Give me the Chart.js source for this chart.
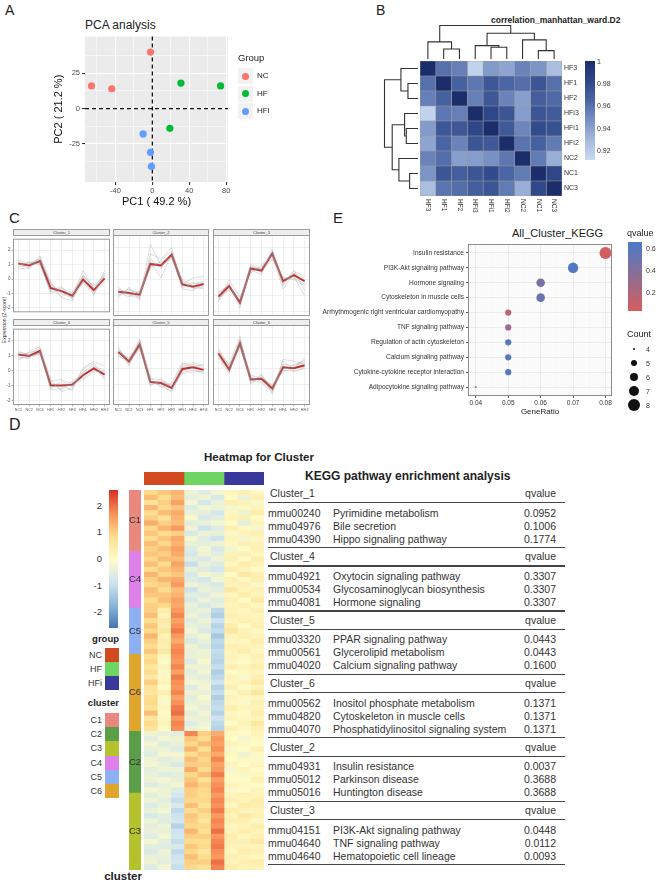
<!DOCTYPE html>
<html>
<head>
<meta charset="utf-8">
<script src="https://cdn.jsdelivr.net/npm/chart.js@4.4.0/dist/chart.umd.min.js"></script>
<style>
body { margin: 0; background: #fff; font-family: "Liberation Sans", Arial, sans-serif; }
#fig { position: relative; width: 658px; height: 884px; overflow: hidden; }
canvas, .t, .b { position: absolute; }
.t { white-space: nowrap; color: #222; line-height: 1; }
</style>
</head>
<body>
<div id="fig"></div>
<script>
// ---------- panel A : PCA ----------
const pcaGroups = ['NC', 'HF', 'HFi'];
const pcaColors = ['#F8766D', '#00BA38', '#619CFF'];
const pc1NC = [-2, -66, -44];
const pc2NC = [40, 16, 14];
const pc1HF = [31, 74, 19];
const pc2HF = [18, 16, -14];
const pc1HFi = [-10, -2, -1];
const pc2HFi = [-18, -31, -41];
const pcaXTicks = [-40, 0, 40, 80];
const pcaYTicks = [-25, 0, 25];

// ---------- panel B : correlation heatmap ----------
const corrLabels = ['HF3', 'HF1', 'HF2', 'HFi3', 'HFi1', 'HFi2', 'NC2', 'NC1', 'NC3'];
const corrMatrix = [
  [1.000, 0.965, 0.958, 0.915, 0.945, 0.940, 0.956, 0.948, 0.927],
  [0.965, 1.000, 0.972, 0.962, 0.977, 0.970, 0.966, 0.978, 0.965],
  [0.958, 0.972, 1.000, 0.958, 0.977, 0.956, 0.943, 0.974, 0.968],
  [0.915, 0.962, 0.958, 1.000, 0.985, 0.978, 0.944, 0.978, 0.975],
  [0.945, 0.977, 0.977, 0.985, 1.000, 0.976, 0.955, 0.983, 0.980],
  [0.940, 0.970, 0.956, 0.978, 0.976, 1.000, 0.963, 0.972, 0.960],
  [0.956, 0.966, 0.943, 0.944, 0.950, 0.962, 1.000, 0.960, 0.935],
  [0.948, 0.978, 0.974, 0.978, 0.983, 0.970, 0.960, 1.000, 0.985],
  [0.927, 0.963, 0.966, 0.974, 0.978, 0.960, 0.935, 0.984, 1.000]
];
const corrTicks = [1, 0.98, 0.96, 0.94, 0.92];
// hclust merges: [left, right, height]
const dendroMerges = [
  ['HF1', 'HF2', 0.30],
  ['HF3', 'm0', 0.51],
  ['HFi1', 'HFi2', 0.35],
  ['HFi3', 'm2', 0.40],
  ['NC1', 'NC3', 0.25],
  ['NC2', 'm4', 0.57],
  ['m3', 'm5', 0.77],
  ['m1', 'm6', 1.00]
];

// ---------- panel C : cluster profiles ----------
const sampleNames = ['NC1', 'NC2', 'NC3', 'HF1', 'HF2', 'HF3', 'HFi1', 'HFi2', 'HFi3'];
const c1Mean = [1.08, 0.95, 1.25, -0.62, -0.83, -1.15, -0.03, -0.76, 0.05];
const c2Mean = [-0.77, -0.85, -0.96, 0.98, 0.88, 1.56, -0.31, -0.46, -0.29];
const c3Mean = [-1.08, -0.42, -1.46, 0.69, 0.56, 1.63, -0.10, 0.27, -0.10];
const c4Mean = [1.08, 0.98, 1.31, -0.98, -1.00, -0.94, -0.31, 0.15, -0.27];
const c5Mean = [1.08, 0.48, 1.56, -0.83, -0.90, -1.21, 0.00, 0.10, -0.06];
const c6Mean = [1.00, -0.04, 1.63, -0.67, -0.63, -1.25, 0.10, 0.04, 0.23];
const c1Genes = [
  [1.3, 1.1, 1.4, -0.3, -1.0, -1.3, 0.3, -0.6, 0.4],
  [0.8, 1.0, 1.1, -0.9, -0.6, -1.0, -0.3, -1.0, -0.2],
  [1.2, 0.7, 1.5, -0.5, -1.2, -0.9, 0.2, -0.5, -0.1],
  [0.9, 1.2, 1.0, -0.8, -0.5, -1.4, -0.2, -0.9, 0.3],
  [1.1, 0.9, 1.3, -0.4, -0.9, -1.2, 0.6, -0.7, 0.0],
  [1.0, 1.1, 1.2, -1.0, -0.7, -1.1, -0.1, -0.4, 0.2],
  [0.7, 0.8, 1.6, -0.2, -1.3, -1.5, 0.2, -1.1, 0.6]
];
const c2Genes = [
  [-0.6, -0.9, -1.1, 1.3, 0.7, 1.7, -0.2, -0.5, -0.4],
  [-1.0, -0.7, -0.8, 0.8, 1.1, 1.4, -0.5, -0.3, -0.1],
  [-0.5, -1.0, -1.2, 2.2, 0.9, 1.3, -0.1, -0.6, -0.5],
  [-0.9, -0.6, -0.9, 0.7, 1.2, 1.8, -0.4, -0.2, -0.3],
  [-0.8, -1.1, -0.7, 1.1, 0.1, 1.6, -0.6, -0.7, -0.1],
  [-0.7, -0.8, -1.0, 0.9, 0.8, 1.5, 0.0, -0.4, -0.6],
  [-1.1, -0.5, -1.3, 1.6, 1.3, 2.0, -0.3, 0.1, 0.2]
];
const c3Genes = [
  [-0.9, -0.3, -1.6, 0.9, 0.4, 1.8, -0.3, 0.4, 0.1],
  [-1.2, -0.6, -1.3, 0.5, 0.8, 1.5, 0.1, 0.1, -0.3],
  [-1.0, -0.2, -1.8, 0.8, 0.6, 1.4, -0.6, 0.4, -0.2],
  [-1.3, -0.5, -1.2, 0.6, 0.3, 1.9, 0.0, 0.2, -1.0],
  [-0.8, -0.4, -1.5, 0.7, 0.7, 1.6, -0.2, 0.5, 0.2],
  [-1.1, -0.7, -1.4, 1.0, 0.5, 1.3, 0.1, 0.0, -0.4],
  [-1.4, 0.0, -1.1, 0.4, 0.9, 1.7, -0.4, 0.6, -0.7]
];
const c4Genes = [
  [1.2, 1.1, 1.5, -1.2, -0.7, -1.1, -0.1, 0.4, -0.5],
  [0.9, 0.8, 1.2, -0.8, -1.3, -0.8, -0.5, 0.0, -0.1],
  [1.3, 1.0, 1.1, -1.1, -1.0, -1.3, 0.1, 0.5, -0.3],
  [1.0, 1.2, 1.4, -0.7, -0.6, -0.9, -0.6, -0.1, 0.0],
  [0.8, 0.9, 1.3, -1.3, -1.2, -0.7, -0.3, 0.3, -0.6],
  [1.1, 1.0, 1.2, -0.9, -0.9, -1.0, -0.2, 0.2, 0.1],
  [0.7, 1.3, 1.6, -0.6, -1.4, -1.2, 0.2, 0.6, 0.3]
];
const c5Genes = [
  [1.2, 0.6, 1.7, -0.7, -1.1, -1.4, 0.2, 0.3, 0.1],
  [0.9, 0.3, 1.4, -1.0, -0.8, -1.0, -0.2, -0.1, -0.2],
  [1.3, 0.5, 1.5, -0.6, -0.7, -1.3, 0.1, 0.2, 0.0],
  [1.0, 0.7, 1.8, -0.9, -1.0, -1.5, -0.1, 0.0, -0.3],
  [1.1, 0.4, 1.3, -0.8, -0.9, -1.1, 0.3, 0.4, 0.2],
  [0.8, 0.5, 1.6, -1.1, -0.6, -1.2, -0.3, -0.2, -0.1],
  [1.4, 0.2, 1.9, -0.5, -1.2, -0.9, 0.4, 0.1, 0.3]
];
const c6Genes = [
  [1.2, 0.1, 1.8, -0.5, -0.8, -1.4, 0.3, 0.2, 0.5],
  [0.8, -0.2, 1.5, -0.9, -0.5, -1.1, -0.1, -0.1, 0.0],
  [1.1, 0.0, 1.4, -0.6, -0.7, -1.3, 0.6, 0.5, 0.3],
  [0.9, -0.1, 1.7, -0.8, -0.4, -1.2, 0.0, 0.1, 0.6],
  [1.3, 0.2, 1.6, -0.7, -0.9, -1.5, 0.2, -0.2, 0.1],
  [0.7, -0.3, 1.9, -0.4, -0.6, -1.0, -0.2, 0.3, 0.4],
  [1.0, 0.3, 2.1, -1.0, -0.3, -1.6, 0.5, 0.0, 0.7]
];

// ---------- panel D : cluster heatmap (NC1..NC3, HF1..HF3, HFi1..HFi3) ----------
const hmClusterOrder = ['C1', 'C4', 'C5', 'C6', 'C2', 'C3'];
const hmC1 = [
  [0.9, 1.1, 1.3, -0.3, -0.6, -0.2, 0.2, 0.3, 0.1],
  [1.2, 0.8, 1.2, -0.5, -0.3, -0.7, 0.0, -0.4, 0.3],
  [0.7, 1.0, 1.5, -0.2, -0.8, -0.4, 0.3, 0.2, -0.1],
  [1.3, 0.9, 1.1, -0.6, -0.2, -0.3, -0.2, 0.1, 0.2],
  [0.8, 1.2, 1.4, -0.4, -0.5, -0.8, 0.1, -0.3, 0.4],
  [1.0, 0.7, 1.3, -0.1, -0.7, -0.5, 0.2, 0.3, 0.0],
  [1.4, 1.0, 1.2, -0.5, -0.4, -0.2, 0.0, -0.5, 0.2],
  [0.9, 1.3, 1.6, -0.3, -0.9, -0.6, 0.3, 0.1, -0.2],
  [1.1, 0.8, 1.0, -0.7, -0.3, -0.4, -0.1, 0.2, 0.3],
  [0.8, 1.1, 1.4, -0.2, -0.6, -0.9, 0.2, -0.2, 0.1],
  [1.2, 0.9, 1.3, -0.4, -0.5, -0.3, 0.1, 0.3, 0.2],
  [1.0, 1.2, 1.5, -0.6, -0.2, -0.7, -0.2, 0.0, 0.3]
];
const hmC4 = [
  [1.1, 1.0, 1.4, -0.8, -0.3, -0.5, 0.2, 0.3, 0.1],
  [0.9, 1.2, 1.2, -0.5, -0.7, -0.3, 0.3, 0.0, 0.4],
  [1.2, 0.8, 1.5, -1.0, -0.4, -0.6, 0.1, 0.4, 0.2],
  [0.8, 1.1, 1.3, -0.4, -0.6, -0.8, 0.4, 0.2, 0.0],
  [1.3, 0.9, 1.1, -0.7, -0.2, -0.4, 0.0, 0.5, 0.3],
  [1.0, 1.3, 1.4, -0.6, -0.8, -0.2, 0.3, 0.1, 0.4],
  [0.9, 1.0, 1.6, -0.3, -0.5, -0.7, 0.2, 0.3, -0.1],
  [1.2, 0.8, 1.2, -0.9, -0.4, -0.5, 0.5, 0.2, 0.3],
  [1.1, 1.1, 1.3, -0.5, -0.6, -0.3, 0.1, 0.4, 0.2],
  [0.8, 1.2, 1.5, -0.7, -0.3, -0.6, 0.3, 0.0, 0.5],
  [1.0, 0.9, 1.4, -0.4, -0.7, -0.4, 0.2, 0.3, 0.1]
];
const hmC5 = [
  [1.0, 0.4, 1.6, -0.5, -0.4, -1.1, 0.2, 0.1, 0.3],
  [1.2, 0.2, 1.8, -0.3, -0.6, -1.3, 0.3, 0.2, 0.1],
  [0.8, 0.5, 1.5, -0.6, -0.3, -0.9, 0.1, 0.3, 0.2],
  [1.1, 0.3, 1.7, -0.4, -0.5, -1.2, 0.4, 0.0, 0.3],
  [0.9, 0.6, 1.9, -0.2, -0.7, -1.0, 0.6, 0.2, 0.1],
  [1.3, 0.2, 1.6, -0.5, -0.2, -1.4, 0.2, 0.3, 0.2],
  [1.0, 0.4, 1.4, -0.7, -0.4, -1.1, 0.1, 0.1, 0.4],
  [0.8, 0.3, 1.7, -0.3, -0.6, -1.2, 0.3, 0.2, 0.2],
  [1.1, 0.5, 1.8, -0.4, -0.3, -1.0, 0.2, 0.4, 0.1]
];
const hmC6 = [
  [0.7, 0.1, 1.7, -0.4, -0.3, -1.1, 0.2, 0.1, 0.3],
  [0.9, 0.0, 1.6, -0.6, -0.1, -1.2, 0.1, 0.0, 0.2],
  [0.6, 0.2, 1.8, -0.3, -0.4, -1.0, 0.3, 0.2, 0.4],
  [0.8, -0.1, 1.5, -0.5, -0.2, -1.3, 0.0, 0.1, 0.1],
  [0.5, 0.1, 1.9, -0.4, -0.5, -1.1, 0.2, -0.1, 0.3],
  [1.0, 0.2, 1.7, -0.2, -0.3, -0.9, 0.1, 0.2, 0.5],
  [0.7, 0.0, 1.6, -0.6, -0.2, -1.2, 0.3, 0.0, 0.2],
  [0.6, 0.3, 1.8, -0.3, -0.4, -1.0, 0.0, 0.3, 0.6],
  [0.8, 0.1, 1.5, -0.5, -0.1, -1.3, 0.2, 0.1, 0.1],
  [0.9, -0.1, 1.7, -0.4, -0.3, -1.1, 0.1, -0.1, 0.3],
  [0.7, 0.2, 1.9, -0.2, -0.5, -1.0, 0.4, 0.2, 0.2],
  [1.2, 0.0, 2.0, -0.5, -0.2, -1.2, 0.1, 0.0, 0.4],
  [0.6, 0.1, 1.6, -0.3, -0.4, -0.9, 0.2, 0.1, 0.2],
  [0.8, 0.2, 1.8, -0.6, -0.3, -1.1, 0.0, 0.2, 0.5],
  [0.7, 0.0, 1.7, -0.4, -0.2, -1.2, 0.3, 0.1, 0.3]
];
const hmC2 = [
  [-0.3, -0.4, -0.5, 1.8, 1.0, 1.4, 0.1, 0.0, 0.2],
  [-0.5, -0.2, -0.3, 1.1, 0.8, 1.6, 0.0, -0.2, 0.1],
  [-0.2, -0.6, -0.4, 0.9, 1.2, 1.5, 0.2, 0.1, 0.0],
  [-0.4, -0.3, -0.6, 1.3, 0.7, 1.7, -0.1, 0.0, 0.3],
  [-0.6, -0.2, -0.2, 0.8, 1.1, 1.4, 0.1, -0.3, 0.1],
  [-0.3, -0.5, -0.4, 1.2, 0.9, 1.8, 0.0, 0.1, -0.1],
  [-0.2, -0.4, -0.7, 1.0, 1.0, 1.5, 0.2, 0.0, 0.2],
  [-0.5, -0.3, -0.3, 1.4, 0.8, 1.6, -0.2, 0.2, 0.0],
  [-0.4, -0.6, -0.5, 0.9, 1.2, 1.9, 0.1, -0.1, 0.1],
  [-0.3, -0.2, -0.4, 1.1, 0.7, 1.5, 0.0, 0.0, 0.3],
  [-0.6, -0.4, -0.2, 1.3, 1.0, 1.7, 0.2, 0.1, 0.0],
  [-0.2, -0.3, -0.6, 1.0, 0.9, 1.8, -0.1, 0.0, 0.2]
];
const hmC3 = [
  [-0.5, -0.3, -0.8, 1.0, 0.8, 1.6, 0.2, 0.3, 0.2],
  [-0.3, -0.5, -1.0, 0.9, 0.9, 1.8, 0.3, 0.2, 0.4],
  [-0.6, -0.4, -0.7, 1.2, 0.7, 1.7, 0.1, 0.4, 0.3],
  [-0.4, -0.2, -1.1, 0.8, 1.0, 1.9, 0.4, 0.2, 0.2],
  [-0.7, -0.5, -0.9, 1.1, 0.8, 1.6, 0.2, 0.5, 0.3],
  [-0.3, -0.6, -0.8, 1.0, 0.6, 1.8, 0.3, 0.3, -0.1],
  [-0.5, -0.3, -1.2, 0.9, 0.9, 1.7, 0.1, 0.2, 0.4],
  [-0.4, -0.4, -0.9, 1.3, 0.7, 2.0, 0.2, 0.4, 0.2],
  [-0.6, -0.2, -0.8, 1.0, 1.0, 1.6, 0.4, 0.1, 0.3],
  [-0.2, -0.5, -1.0, 0.8, 0.8, 1.8, 0.3, 0.3, 0.5],
  [-0.5, -0.6, -0.7, 1.1, 0.9, 1.9, 0.2, 0.2, 0.2],
  [-0.7, -0.3, -1.1, 0.9, 0.6, 1.7, 0.1, 0.4, 0.3],
  [-0.4, -0.4, -0.9, 1.2, 0.8, 1.6, 0.3, 0.2, 0.1],
  [-0.3, -0.5, -0.8, 1.0, 1.0, 2.0, 0.2, 0.3, 0.4],
  [-0.6, -0.2, -1.0, 0.9, 0.7, 1.8, 0.4, 0.2, 0.2]
];
const zTicks = [2, 1, 0, -1, -2];
const groupSizes = [3, 3, 3];
const groupColors = ['#D24A1F', '#6ED462', '#38399A'];
const clusterLegend = ['C1', 'C2', 'C3', 'C4', 'C5', 'C6'];
const clusterColors = { C1: '#E8887F', C2: '#5A9E47', C3: '#B4C22B', C4: '#DD80EA', C5: '#8CB0F2', C6: '#E0A52C' };

// ---------- KEGG table ----------
const keggClusters = ['Cluster_1', 'Cluster_4', 'Cluster_5', 'Cluster_6', 'Cluster_2', 'Cluster_3'];
const keggIds = [
  ['mmu00240', 'mmu04976', 'mmu04390'],
  ['mmu04921', 'mmu00534', 'mmu04081'],
  ['mmu03320', 'mmu00561', 'mmu04020'],
  ['mmu00562', 'mmu04820', 'mmu04070'],
  ['mmu04931', 'mmu05012', 'mmu05016'],
  ['mmu04151', 'mmu04640', 'mmu04640']
];
const keggTerms = [
  ['Pyrimidine metabolism', 'Bile secretion', 'Hippo signaling pathway'],
  ['Oxytocin signaling pathway', 'Glycosaminoglycan biosynthesis', 'Hormone signaling'],
  ['PPAR signaling pathway', 'Glycerolipid metabolism', 'Calcium signaling pathway'],
  ['Inositol phosphate metabolism', 'Cytoskeleton in muscle cells', 'Phosphatidylinositol signaling system'],
  ['Insulin resistance', 'Parkinson disease', 'Huntington disease'],
  ['PI3K-Akt signaling pathway', 'TNF signaling pathway', 'Hematopoietic cell lineage']
];
const keggQTable = [
  [0.0952, 0.1006, 0.1774],
  [0.3307, 0.3307, 0.3307],
  [0.0443, 0.0443, 0.1600],
  [0.1371, 0.1371, 0.1371],
  [0.0037, 0.3688, 0.3688],
  [0.0448, 0.0112, 0.0093]
];

// ---------- panel E : KEGG dot plot ----------
const keggPaths = ['Insulin resistance', 'PI3K-Akt signaling pathway', 'Hormone signaling',
  'Cytoskeleton in muscle cells', 'Arrhythmogenic right ventricular cardiomyopathy', 'TNF signaling pathway',
  'Regulation of actin cytoskeleton', 'Calcium signaling pathway', 'Cytokine-cytokine receptor interaction',
  'Adipocytokine signaling pathway'];
const keggRatio = [0.08, 0.07, 0.06, 0.06, 0.05, 0.05, 0.05, 0.05, 0.05, 0.04];
const keggQ = [0.03, 0.62, 0.44, 0.52, 0.16, 0.28, 0.60, 0.60, 0.60, 0.26];
const keggCount = [8, 7, 6, 6, 5, 5, 5, 5, 5, 4];
const ratioTicks = [0.04, 0.05, 0.06, 0.07, 0.08];
const qTicks = [0.6, 0.4, 0.2];
const countTicks = [4, 5, 6, 7, 8];

// =====================================================
Chart.defaults.font.family = '"Liberation Sans", Arial, sans-serif';
Chart.defaults.animation = false;
Chart.defaults.responsive = false;
Chart.defaults.devicePixelRatio = 1;
Chart.defaults.plugins.legend.display = false;
Chart.defaults.plugins.tooltip.enabled = false;
Chart.defaults.color = '#333';

const fig = document.getElementById('fig');

function addCanvas(left, top, w, h) {
  const c = document.createElement('canvas');
  c.width = w; c.height = h;
  c.style.left = left + 'px'; c.style.top = top + 'px';
  c.style.width = w + 'px'; c.style.height = h + 'px';
  fig.appendChild(c);
  return c;
}

function addText(str, x, y, o) {
  o = o || {};
  const d = document.createElement('div');
  d.className = 't';
  d.textContent = str;
  d.style.left = x + 'px';
  d.style.top = y + 'px';
  d.style.fontSize = (o.size || 10) + 'px';
  if (o.bold) d.style.fontWeight = 'bold';
  if (o.color) d.style.color = o.color;
  const ax = o.align === 'center' ? '-50%' : (o.align === 'right' ? '-100%' : '0');
  let tr = 'translate(' + ax + ',-50%)';
  if (o.rotate) tr += ' rotate(' + o.rotate + 'deg)';
  d.style.transform = tr;
  fig.appendChild(d);
  return d;
}

function addBox(x, y, w, h, bg, extra) {
  const d = document.createElement('div');
  d.className = 'b';
  d.style.left = x + 'px'; d.style.top = y + 'px';
  d.style.width = w + 'px'; d.style.height = h + 'px';
  d.style.background = bg;
  if (extra) Object.assign(d.style, extra);
  fig.appendChild(d);
  return d;
}

function panelBg(fill, stroke) {
  return {
    id: 'panelBg',
    beforeDraw(chart) {
      const a = chart.chartArea, c = chart.ctx;
      c.save();
      c.fillStyle = fill;
      c.fillRect(a.left, a.top, a.right - a.left, a.bottom - a.top);
      c.restore();
    },
    afterDraw(chart) {
      if (!stroke) return;
      const a = chart.chartArea, c = chart.ctx;
      c.save();
      c.strokeStyle = stroke;
      c.lineWidth = 1;
      c.strokeRect(a.left + 0.5, a.top + 0.5, a.right - a.left - 1, a.bottom - a.top - 1);
      c.restore();
    }
  };
}

function hexToRgb(h) {
  return [parseInt(h.slice(1, 3), 16), parseInt(h.slice(3, 5), 16), parseInt(h.slice(5, 7), 16)];
}
function rampColor(stops, v) {
  if (v <= stops[0][0]) return stops[0][1];
  for (let i = 1; i < stops.length; i++) {
    if (v <= stops[i][0]) {
      const t = (v - stops[i - 1][0]) / (stops[i][0] - stops[i - 1][0]);
      const a = hexToRgb(stops[i - 1][1]), b = hexToRgb(stops[i][1]);
      return 'rgb(' + a.map((x, k) => Math.round(x + (b[k] - x) * t)).join(',') + ')';
    }
  }
  return stops[stops.length - 1][1];
}

const corrStops = [[0.911, '#C9DAF0'], [0.93, '#A4B9DD'], [0.95, '#7891C5'], [0.97, '#4A65A4'], [0.985, '#2E4788'], [1, '#1B2E6B']];
const zStops = [[-2.6, '#4575B4'], [-1.73, '#8BB8D8'], [-0.87, '#D0E5F0'], [0, '#FEFBC6'], [0.87, '#FDDC8C'], [1.73, '#F88D55'], [2.6, '#D73027']];
const qStops = [[0.027, '#D55E5E'], [0.655, '#4A7BC8']];

// ---------------- panel labels ----------------
addText('A', 5, 10, { size: 14 });
addText('B', 376, 10, { size: 14 });
addText('C', 9, 217, { size: 15 });
addText('E', 333, 217, { size: 15 });
addText('D', 9, 425, { size: 16 });

// ---------------- A: PCA scatter ----------------
addText('PCA analysis', 85, 25, { size: 12 });
const pcaX = [pc1NC, pc1HF, pc1HFi];
const pcaY = [pc2NC, pc2HF, pc2HFi];
const zeroLines = {
  id: 'zeroLines',
  beforeDatasetsDraw(chart) {
    const a = chart.chartArea, c = chart.ctx;
    const x0 = chart.scales.x.getPixelForValue(0), y0 = chart.scales.y.getPixelForValue(0);
    c.save();
    c.strokeStyle = '#111'; c.lineWidth = 1.3; c.setLineDash([4, 3]);
    c.beginPath(); c.moveTo(x0, a.top); c.lineTo(x0, a.bottom); c.stroke();
    c.beginPath(); c.moveTo(a.left, y0); c.lineTo(a.right, y0); c.stroke();
    c.restore();
  }
};
new Chart(addCanvas(52, 30, 188, 180), {
  type: 'scatter',
  data: {
    datasets: pcaGroups.map((g, i) => ({
      label: g,
      data: pcaX[i].map((x, k) => ({ x: x, y: pcaY[i][k] })),
      backgroundColor: pcaColors[i],
      pointRadius: 3.6,
      borderWidth: 0
    }))
  },
  options: {
    layout: { padding: { top: 5, right: 12, left: 0, bottom: 0 } },
    scales: {
      x: {
        min: -73, max: 82,
        afterBuildTicks(s) { s.ticks = [-60, -40, -20, 0, 20, 40, 60, 80].map(v => ({ value: v })); },
        afterFit(s) { s.height = 28; },
        ticks: { autoSkip: false, maxRotation: 0, padding: 1, font: { size: 7.5 }, color: '#4D4D4D',
          callback: v => pcaXTicks.includes(v) ? v : '' },
        grid: { color: '#fff', lineWidth: c => pcaXTicks.includes(c.tick.value) ? 1.1 : 0.5, tickLength: 3,
          tickColor: c => pcaXTicks.includes(c.tick.value) ? '#333' : 'rgba(0,0,0,0)' },
        border: { display: false },
        title: { display: true, text: 'PC1 ( 49.2 %)', font: { size: 11 }, color: '#111', padding: { top: 0, bottom: 1 } }
      },
      y: {
        min: -52, max: 51,
        afterBuildTicks(s) { s.ticks = [-37.5, -25, -12.5, 0, 12.5, 25, 37.5].map(v => ({ value: v })); },
        afterFit(s) { s.width = 33; },
        ticks: { autoSkip: false, padding: 2, font: { size: 7.5 }, color: '#4D4D4D',
          callback: v => pcaYTicks.includes(v) ? v : '' },
        grid: { color: '#fff', lineWidth: c => pcaYTicks.includes(c.tick.value) ? 1.1 : 0.5, tickLength: 3,
          tickColor: c => pcaYTicks.includes(c.tick.value) ? '#333' : 'rgba(0,0,0,0)' },
        border: { display: false },
        title: { display: true, text: 'PC2 ( 21.2 %)', font: { size: 11 }, color: '#111', padding: { top: 0, bottom: 2 } }
      }
    }
  },
  plugins: [panelBg('#EBEBEB', null), zeroLines]
});
// legend A
addText('Group', 238, 58, { size: 9.5 });
pcaGroups.forEach((g, i) => {
  const y = 76 + i * 17.5;
  addBox(238, y - 8, 15, 16, '#F2F2F2');
  addBox(242, y - 3.5, 7, 7, pcaColors[i], { borderRadius: '50%' });
  addText(g, 257, y, { size: 8 });
});

// ---------------- B: correlation heatmap ----------------
addText('correlation_manhattan_ward.D2', 491, 20, { size: 8.5, bold: true });
const dendroPlugin = {
  id: 'dendro',
  afterDraw(chart) {
    const a = chart.chartArea, c = chart.ctx, H = 33.5;
    const pos = {}, ht = {};
    corrLabels.forEach((l, i) => { pos[l] = i; ht[l] = 0; });
    dendroMerges.forEach((m, k) => {
      pos['m' + k] = (pos[m[0]] + pos[m[1]]) / 2;
      ht['m' + k] = m[2];
    });
    c.save();
    c.strokeStyle = '#333'; c.lineWidth = 1.1;
    const topY = a.top - 2, leftX = a.left - 2;
    dendroMerges.forEach(m => {
      // column dendrogram (top)
      const xa = chart.scales.x.getPixelForValue(pos[m[0]] + 0.5);
      const xb = chart.scales.x.getPixelForValue(pos[m[1]] + 0.5);
      const ya = topY - ht[m[0]] * H, yb = topY - ht[m[1]] * H, ym = topY - m[2] * H;
      c.beginPath();
      c.moveTo(xa, ya); c.lineTo(xa, ym); c.lineTo(xb, ym); c.lineTo(xb, yb);
      c.stroke();
      // row dendrogram (left)
      const ra = chart.scales.y.getPixelForValue(pos[m[0]]);
      const rb = chart.scales.y.getPixelForValue(pos[m[1]]);
      const la = leftX - ht[m[0]] * H, lb = leftX - ht[m[1]] * H, lm = leftX - m[2] * H;
      c.beginPath();
      c.moveTo(la, ra); c.lineTo(lm, ra); c.lineTo(lm, rb); c.lineTo(lb, rb);
      c.stroke();
    });
    // column names, reading top to bottom under the cells
    c.font = '6.5px "Liberation Sans", Arial';
    c.fillStyle = '#333'; c.textAlign = 'left'; c.textBaseline = 'middle';
    corrLabels.forEach((l, i) => {
      c.save();
      c.translate(chart.scales.x.getPixelForValue(i + 0.5), a.bottom + 3);
      c.rotate(Math.PI / 2);
      c.fillText(l, 0, 0);
      c.restore();
    });
    c.restore();
  }
};
new Chart(addCanvas(380, 25, 220, 195), {
  type: 'bar',
  data: {
    labels: corrLabels,
    datasets: corrLabels.map((col, j) => ({
      label: col,
      data: corrLabels.map(() => 1),
      backgroundColor: corrMatrix.map(row => rampColor(corrStops, row[j])),
      borderColor: '#9A9A9A',
      borderWidth: 0.6,
      borderSkipped: false,
      barPercentage: 1,
      categoryPercentage: 1
    }))
  },
  options: {
    indexAxis: 'y',
    layout: { padding: { left: 40, top: 36, right: 0, bottom: 0 } },
    scales: {
      x: {
        stacked: true, min: 0, max: 9,
        afterFit(s) { s.height = 24; },
        ticks: { display: false },
        grid: { display: false, drawTicks: false },
        border: { display: false }
      },
      y: {
        stacked: true, position: 'right',
        afterFit(s) { s.width = 38; },
        ticks: { padding: 2, font: { size: 7 }, color: '#333' },
        grid: { display: false, drawTicks: false },
        border: { display: false }
      }
    }
  },
  plugins: [dendroPlugin]
});
// colour key B
const bTop = 61, bH = 99, bMin = 0.911;
addBox(585, bTop, 10, bH, 'linear-gradient(to bottom,' +
  [1, 0.985, 0.97, 0.95, 0.93, bMin].map(v => rampColor(corrStops, v)).join(',') + ')');
corrTicks.forEach(v => addText(String(v), 597, bTop + (1 - v) / (1 - bMin) * bH, { size: 7, color: '#333' }));

// ---------------- C: cluster profiles ----------------
const facetMeans = [c1Mean, c2Mean, c3Mean, c4Mean, c5Mean, c6Mean];
const facetGenes = [c1Genes, c2Genes, c3Genes, c4Genes, c5Genes, c6Genes];
const facetCols = [[13, 110], [113, 209], [213, 310]];
const facetRows = [[229, 235, 316], [319, 325, 405]];
addText('Expression (Z-score)', 3.5, 320, { size: 5, align: 'center', rotate: -90, color: '#333' });
facetMeans.forEach((mean, k) => {
  const col = facetCols[k % 3], row = facetRows[Math.floor(k / 3)];
  const showY = k % 3 === 0, showX = k >= 3;
  const axW = showY ? 9 : 0, axH = showX ? 8 : 0;
  addBox(col[0], row[0], col[1] - col[0] - 2, row[1] - row[0] - 1, '#EEEEEE', { border: '1px solid #9A9A9A' });
  addText('Cluster_' + (k + 1), (col[0] + col[1]) / 2, (row[0] + row[1]) / 2 + 0.5, { size: 4, align: 'center', color: '#444' });
  const left = col[0] - axW, top = row[1];
  new Chart(addCanvas(left, top, col[1] - left, row[2] - top + axH), {
    type: 'line',
    data: {
      labels: sampleNames,
      datasets: facetGenes[k].map(g => ({
        data: g, borderColor: 'rgba(150,150,150,0.45)', borderWidth: 0.7, pointRadius: 0, tension: 0
      })).concat([{ data: mean, borderColor: '#C42B2B', borderWidth: 2, pointRadius: 0, tension: 0 }])
    },
    options: {
      layout: { padding: 0 },
      scales: {
        x: {
          offset: true,
          afterFit(s) { s.height = axH; },
          ticks: { display: showX, autoSkip: false, maxRotation: 0, padding: 1, font: { size: 3.6 }, color: '#555' },
          grid: { color: '#E6E6E6', lineWidth: 0.6, offset: false, drawTicks: showX, tickLength: 1.5, tickColor: '#777' },
          border: { display: false }
        },
        y: {
          min: -2.3, max: 2.8,
          afterBuildTicks(s) { s.ticks = [-2, -1, 0, 1, 2].map(v => ({ value: v })); },
          afterFit(s) { s.width = axW; },
          ticks: { display: showY, padding: 1, font: { size: 4.5 }, color: '#555' },
          grid: { color: '#E6E6E6', lineWidth: 0.6, drawTicks: showY, tickLength: 1.5, tickColor: '#777' },
          border: { display: false }
        }
      }
    },
    plugins: [panelBg('#FFFFFF', '#9A9A9A')]
  });
});

// ---------------- E: KEGG dot plot ----------------
function sizeOf(n) { return Math.sqrt(1 + (n - 4) / 4 * 35); }
addText('All_Cluster_KEGG', 512, 233, { size: 11 });
new Chart(addCanvas(300, 238, 318, 180), {
  type: 'bubble',
  data: {
    datasets: [{
      data: keggPaths.map((p, i) => ({ x: keggRatio[i], y: i, r: sizeOf(keggCount[i]) })),
      backgroundColor: keggQ.map(q => rampColor(qStops, q)),
      borderWidth: 0, hoverRadius: 0
    }]
  },
  options: {
    layout: { padding: { top: 5, right: 3, left: 0, bottom: 0 } },
    scales: {
      x: {
        min: 0.0376, max: 0.082,
        afterBuildTicks(s) { s.ticks = [0.04, 0.045, 0.05, 0.055, 0.06, 0.065, 0.07, 0.075, 0.08].map(v => ({ value: v })); },
        afterFit(s) { s.height = 22; },
        ticks: { autoSkip: false, maxRotation: 0, padding: 1, font: { size: 6.5 }, color: '#333',
          callback: (v, i) => i % 2 === 0 ? v.toFixed(2) : '' },
        grid: { color: c => c.index % 2 === 0 ? '#E8E8E8' : '#F2F2F2', lineWidth: c => c.index % 2 === 0 ? 0.8 : 0.5,
          tickLength: 2, tickColor: c => c.index % 2 === 0 ? '#333' : 'rgba(0,0,0,0)' },
        border: { display: false },
        title: { display: true, text: 'GeneRatio', font: { size: 8 }, color: '#222', padding: { top: 0, bottom: 1 } }
      },
      y: {
        min: -0.6, max: 9.6, reverse: true,
        afterBuildTicks(s) { s.ticks = keggPaths.map((p, i) => ({ value: i })); },
        afterFit(s) { s.width = 168; },
        ticks: { autoSkip: false, padding: 2, font: { size: 6.6 }, color: '#333', callback: v => keggPaths[v] },
        grid: { color: '#E8E8E8', lineWidth: 0.8, tickLength: 2, tickColor: '#333' },
        border: { display: false }
      }
    }
  },
  plugins: [panelBg('#FBFBFB', '#8C8C8C')]
});
// legend E
addText('qvalue', 627, 233, { size: 9 });
const qTop = 242, qH = 69, qMax = 0.655, qMin = 0.027;
addBox(628, qTop, 14, qH, 'linear-gradient(to bottom,' + rampColor(qStops, qMax) + ',' + rampColor(qStops, qMin) + ')');
qTicks.forEach(v => addText(String(v), 646, qTop + (qMax - v) / (qMax - qMin) * qH, { size: 7, color: '#333' }));
addText('Count', 627, 334, { size: 9 });
countTicks.forEach((n, i) => {
  const y = 349 + i * 14, r = sizeOf(n);
  addBox(634 - r, y - r, 2 * r, 2 * r, '#111', { borderRadius: '50%' });
  addText(String(n), 646, y, { size: 7, color: '#333' });
});

// ---------------- D: cluster heatmap ----------------
const hmBlocks = { C1: hmC1, C4: hmC4, C5: hmC5, C6: hmC6, C2: hmC2, C3: hmC3 };
const hmRows = [].concat(...hmClusterOrder.map(c => hmBlocks[c]));
const hmTop = 490, hmBottom = 870, hmLeft = 144, hmRight = 264;

addText('Heatmap for Cluster', 204, 458, { size: 11.5, bold: true });

// group annotation bar
new Chart(addCanvas(hmLeft, 472, hmRight - hmLeft, 13), {
  type: 'bar',
  data: {
    labels: ['group'],
    datasets: pcaGroups.map((g, i) => ({
      label: g, data: [groupSizes[i]], backgroundColor: groupColors[i],
      borderWidth: 0, barPercentage: 1, categoryPercentage: 1
    }))
  },
  options: {
    indexAxis: 'y',
    layout: { padding: 0 },
    scales: { x: { stacked: true, display: false, min: 0, max: 9 }, y: { stacked: true, display: false } }
  }
});

// expression cells
new Chart(addCanvas(hmLeft, hmTop, hmRight - hmLeft, hmBottom - hmTop), {
  type: 'bar',
  data: {
    labels: hmRows.map((r, i) => 'g' + (i + 1)),
    datasets: sampleNames.map((s, j) => ({
      label: s,
      data: hmRows.map(() => 1),
      backgroundColor: hmRows.map(r => rampColor(zStops, r[j])),
      borderWidth: 0, barPercentage: 1, categoryPercentage: 1
    }))
  },
  options: {
    indexAxis: 'y',
    layout: { padding: 0 },
    scales: { x: { stacked: true, display: false, min: 0, max: 9 }, y: { stacked: true, display: false } }
  }
});

// cluster annotation column
const clusterLabelPlugin = {
  id: 'clusterLabels',
  afterDatasetsDraw(chart) {
    const c = chart.ctx;
    c.save();
    c.font = '9.5px "Liberation Sans", Arial';
    c.fillStyle = '#333'; c.textAlign = 'center'; c.textBaseline = 'middle';
    chart.data.datasets.forEach((ds, i) => {
      const bar = chart.getDatasetMeta(i).data[0];
      c.fillText(ds.label, bar.x, (bar.y + bar.base) / 2);
    });
    c.restore();
  }
};
const annoOrder = hmClusterOrder.slice().reverse();
new Chart(addCanvas(129, hmTop, 12, hmBottom - hmTop), {
  type: 'bar',
  data: {
    labels: ['cluster'],
    datasets: annoOrder.map(c => ({
      label: c, data: [hmBlocks[c].length], backgroundColor: clusterColors[c],
      borderWidth: 0, barPercentage: 1, categoryPercentage: 1
    }))
  },
  options: {
    layout: { padding: 0 },
    scales: { x: { stacked: true, display: false }, y: { stacked: true, display: false, min: 0, max: hmRows.length } }
  },
  plugins: [clusterLabelPlugin]
});
addText('cluster', 123, 877, { size: 11.5, bold: true, align: 'center' });

// colour key D
const zTop = 490, zH = 138, zMax = 2.6;
addBox(109, zTop, 9, zH, 'linear-gradient(to bottom,' + zStops.slice().reverse().map(s => s[1]).join(',') + ')');
zTicks.forEach(v => addText(String(v), 102, zTop + (zMax - v) / (2 * zMax) * zH, { size: 9.5, align: 'right', color: '#333' }));

// group + cluster legends
addText('group', 119, 639, { size: 9.5, bold: true, align: 'right' });
pcaGroups.forEach((g, i) => {
  addBox(105, 648 + i * 14, 14, 14, groupColors[i]);
  addText(g, 102, 655 + i * 14, { size: 9, align: 'right', color: '#333' });
});
addText('cluster', 119, 703, { size: 9.5, bold: true, align: 'right' });
clusterLegend.forEach((c, i) => {
  addBox(105, 713 + i * 14.2, 14, 14.2, clusterColors[c]);
  addText(c, 102, 720 + i * 14.2, { size: 9, align: 'right', color: '#333' });
});

// ---------------- KEGG table ----------------
addText('KEGG pathway enrichment analysis', 305, 476, { size: 12, bold: true });
keggClusters.forEach((name, s) => {
  const y0 = 493 + s * 63.4;
  addText(name, 270, y0, { size: 10.5, color: '#333' });
  addText('qvalue', 556, y0, { size: 10.5, align: 'right', color: '#333' });
  addBox(268, y0 + 9, 297, 1.2, '#444');
  keggIds[s].forEach((id, r) => {
    const y = y0 + 19.5 + r * 13;
    addText(id, 268, y, { size: 10.5, color: '#333' });
    addText(keggTerms[s][r], 333, y, { size: 10.5, color: '#333' });
    addText(keggQTable[s][r].toFixed(4), 556, y, { size: 10.5, align: 'right', color: '#333' });
  });
  addBox(268, y0 + 54, 297, 1.2, '#444');
});
</script>
</body>
</html>
